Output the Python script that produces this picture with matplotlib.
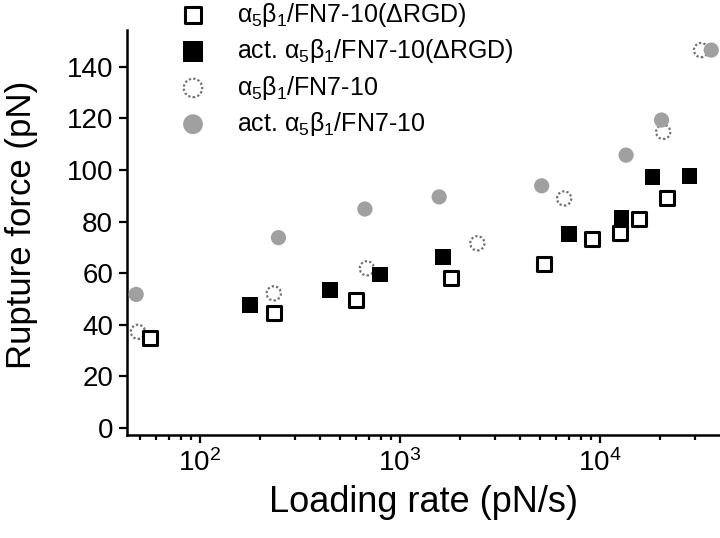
import matplotlib
matplotlib.use("Agg")
import matplotlib.pyplot as plt
from matplotlib.ticker import LogLocator, FixedLocator

plt.rcParams['font.family'] = ['Liberation Sans', 'DejaVu Sans']
plt.rcParams['mathtext.fontset'] = 'custom'
plt.rcParams['mathtext.rm'] = 'Liberation Sans'
plt.rcParams['mathtext.it'] = 'Liberation Sans'
plt.rcParams['mathtext.bf'] = 'Liberation Sans:bold'

# ---- data ----
labels = [r'$\alpha_5\beta_1$/FN7-10(ΔRGD)',
          r'act. $\alpha_5\beta_1$/FN7-10(ΔRGD)',
          r'$\alpha_5\beta_1$/FN7-10',
          r'act. $\alpha_5\beta_1$/FN7-10']

open_sq_x = [56, 234, 603, 1792, 5250, 9150, 12600, 15600, 21700]
open_sq_y = [35, 44.6, 49.6, 58, 63.4, 73.1, 75.7, 80.9, 89]

fill_sq_x = [178, 447, 797, 1647, 7000, 12800, 18300, 28000]
fill_sq_y = [47.7, 53.5, 59.5, 66.2, 75.1, 81.3, 97.2, 97.8]

open_ci_x = [49, 234, 683, 2437, 6620, 20700, 32000]
open_ci_y = [37.3, 52.2, 61.9, 71.6, 89, 114.8, 146.5]

gray_ci_x = [48, 247, 668, 1570, 5110, 13500, 20300, 36000]
gray_ci_y = [51.8, 73.8, 84.9, 89.6, 93.9, 105.8, 119.4, 146.5]

y_ticks = [0, 20, 40, 60, 80, 100, 120, 140]

fig = plt.figure(figsize=(7.2, 5.38), dpi=100)
ax = fig.add_axes([127/720, 103/538, 593/720, 405/538])

ax.scatter(open_ci_x, open_ci_y, s=105, facecolor='white', edgecolor='#707070',
           linewidths=1.6, linestyles=(0, (1, 1)), marker='o', label=labels[2], zorder=3)
ax.scatter(gray_ci_x, gray_ci_y, s=120, facecolor='#a0a0a0', edgecolor='none',
           marker='o', label=labels[3], zorder=3)
ax.scatter(open_sq_x, open_sq_y, s=88, facecolor='white', edgecolor='black',
           linewidths=2.2, marker='s', label=labels[0], zorder=4)
ax.scatter(fill_sq_x, fill_sq_y, s=128, facecolor='black', edgecolor='none',
           marker='s', label=labels[1], zorder=5)

ax.set_xscale('log')
ax.set_xlim(43.2, 39800)
ax.set_ylim(-2.7, 154.3)
ax.yaxis.set_major_locator(FixedLocator(y_ticks))
ax.xaxis.set_major_locator(LogLocator(base=10, numticks=10))
ax.xaxis.set_minor_locator(LogLocator(base=10, subs=range(2, 10), numticks=20))

for s in ['top', 'right']:
    ax.spines[s].set_visible(False)
for s in ['left', 'bottom']:
    ax.spines[s].set_linewidth(1.8)

ax.tick_params(axis='both', which='major', direction='out', length=6, width=1.6,
               labelsize=20, pad=4)
ax.tick_params(axis='x', which='minor', direction='out', length=3.5, width=1.6)
ax.tick_params(axis='y', which='minor', left=False)

ax.set_xlabel('Loading rate (pN/s)', fontsize=26, labelpad=6)
ax.set_ylabel('Rupture force (pN)', fontsize=25)
ax.yaxis.set_label_coords(-0.15, 0.52)

handles, labs = ax.get_legend_handles_labels()
order = [labs.index(l) for l in labels]
fig.legend([handles[i] for i in order], [labs[i] for i in order],
           loc='upper left', bbox_to_anchor=(180.5/720, 1 - 1/538),
           bbox_transform=fig.transFigure, frameon=False, fontsize=18,
           handlelength=1.0, handletextpad=1.26, labelspacing=0.33,
           borderpad=0, borderaxespad=0, scatterpoints=1, markerscale=1.3)

fig.savefig('out.png', dpi=100)
